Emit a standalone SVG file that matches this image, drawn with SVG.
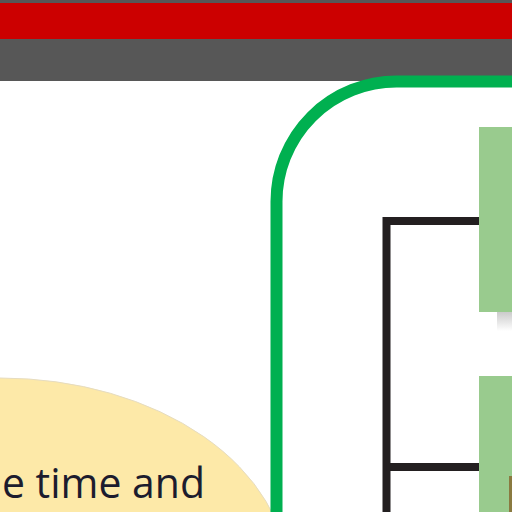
<svg xmlns="http://www.w3.org/2000/svg" width="512" height="512" viewBox="0 0 512 512">
<defs>
<style>
.bar-dark{fill:#575757}
.bar-red{fill:#cc0000}
.frame{fill:none;stroke:#00b050;stroke-width:12}
.conn{fill:none;stroke:#231f20;stroke-width:8}
.box{fill:#99cb8e}
.label{font-family:"Open Sans","Noto Sans",sans-serif;font-size:42px;fill:#1c1c2e}
</style>
<linearGradient id="sh" x1="0" y1="0" x2="0" y2="1">
<stop offset="0" stop-color="#c8c8c8"/>
<stop offset="1" stop-color="#ffffff"/>
</linearGradient>
</defs>
<rect width="512" height="512" fill="#ffffff"/>
<rect class="bar-dark" x="0" y="0" width="512" height="81"/>
<rect class="bar-red" x="0" y="3" width="512" height="36"/>
<g id="bubble">
<ellipse cx="0" cy="578" rx="288" ry="200" fill="#fde9a8" stroke="#e6dcc0" stroke-width="1"/>
<text class="label" x="2" y="498" textLength="203" lengthAdjust="spacingAndGlyphs">e time and</text>
</g>
<g id="frame">
<rect class="frame" x="276.5" y="81.5" width="400" height="600" rx="120" ry="120"/>
</g>
<g id="connectors">
<polyline class="conn" points="480,221 386.5,221 386.5,512"/>
<line class="conn" x1="386.5" y1="467" x2="480" y2="467"/>
</g>
<g id="node1">
<rect x="497" y="311" width="15" height="20" fill="url(#sh)"/>
<rect class="box" x="479" y="127" width="33" height="185"/>
</g>
<g id="node2">
<rect class="box" x="479" y="376" width="33" height="136"/>
<rect x="509" y="476" width="3" height="36" fill="#8a7a40"/>
</g>
</svg>
